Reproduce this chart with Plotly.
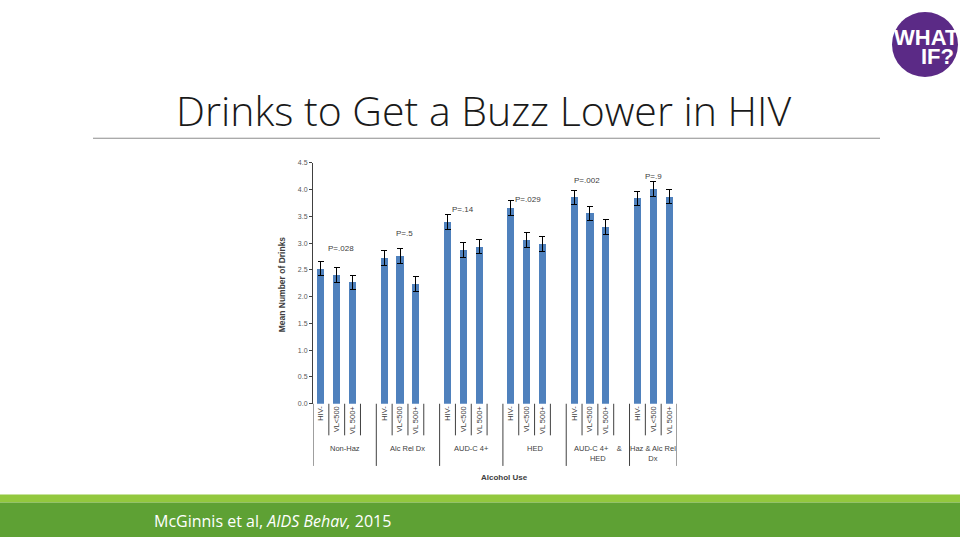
import plotly.graph_objects as go

# ---- data ----
groups = ["Non-Haz", "Alc Rel Dx", "AUD-C 4+", "HED", "AUD-C 4+    &<br>HED", "Haz & Alc Rel<br>Dx"]
subgroups = ["HIV-", "VL<500", "VL 500+"]
means = [
    [2.52, 2.40, 2.27],
    [2.73, 2.76, 2.24],
    [3.39, 2.87, 2.93],
    [3.66, 3.06, 2.98],
    [3.86, 3.56, 3.30],
    [3.84, 4.01, 3.87],
]
errors = [
    [0.13, 0.14, 0.13],
    [0.14, 0.14, 0.14],
    [0.14, 0.14, 0.13],
    [0.14, 0.14, 0.14],
    [0.13, 0.13, 0.14],
    [0.13, 0.14, 0.13],
]
p_values = ["P=.028", "P=.5", "P=.14", "P=.029", "P=.002", "P=.9"]
p_heights = [2.90, 3.18, 3.63, 3.82, 4.17, 4.24]
p_offsets = [0.3, 0.3, 0.0, 0.1, -0.2, 0.0]
y_ticks = [0.0, 0.5, 1.0, 1.5, 2.0, 2.5, 3.0, 3.5, 4.0, 4.5]

SLOTS = 4  # three bars plus one empty slot per group
xs, ys, es, labels = [], [], [], []
for g in range(len(groups)):
    for b in range(len(subgroups)):
        xs.append(g * SLOTS + b)
        ys.append(means[g][b])
        es.append(errors[g][b])
        labels.append(subgroups[b])

x_min = -0.5
x_max = (len(groups) - 1) * SLOTS + len(subgroups) - 0.5

W, H = 960, 540
def py(px):
    return 1 - px / H
def px_(p):
    return p / W

text_col = "#404040"
chart_font = "Liberation Sans"

fig = go.Figure()
fig.add_trace(go.Bar(
    x=xs, y=ys, width=0.45,
    marker=dict(color="#4f81bd", line=dict(width=0)),
    error_y=dict(type="data", array=es, visible=True, color="#000000", thickness=1, width=3),
    showlegend=False, hoverinfo="skip",
))

# P-value annotations
for g, (p, h, o) in enumerate(zip(p_values, p_heights, p_offsets)):
    fig.add_annotation(x=g * SLOTS + 1 + o, y=h, xref="x", yref="y", text=p, showarrow=False,
                       xanchor="center", yanchor="middle",
                       font=dict(family=chart_font, size=8, color=text_col))

# Separators below the axis
shapes = []
axis_bottom = 405
for g in range(len(groups)):
    nb = len(subgroups)
    for b in range(nb):
        pos = g * SLOTS + b + 0.5
        if g == len(groups) - 1 and b == nb - 1:
            continue
        shapes.append(dict(type="line", xref="x", yref="paper", x0=pos, x1=pos,
                           y0=py(axis_bottom), y1=py(437), line=dict(color="#404040", width=1)))
    left = g * SLOTS - 0.5
    shapes.append(dict(type="line", xref="x", yref="paper", x0=left, x1=left,
                       y0=py(axis_bottom), y1=py(468), line=dict(color="#404040", width=1)))
shapes.append(dict(type="line", xref="x", yref="paper", x0=x_max, x1=x_max,
                   y0=py(axis_bottom), y1=py(468), line=dict(color="#404040", width=1)))

# Group labels
for g, name in enumerate(groups):
    last = (g == len(groups) - 1)
    cx = g * SLOTS + (1 if last else 1.5)
    fig.add_annotation(x=cx, y=py(444), xref="x", yref="paper", text=name, showarrow=False,
                       xanchor="center", yanchor="top",
                       font=dict(family=chart_font, size=7.5, color=text_col))

# Slide decoration: title rule, green footer bands, logo
shapes.append(dict(type="line", xref="paper", yref="paper", x0=px_(93), x1=px_(880),
                   y0=py(136), y1=py(136), line=dict(color="#8c8c8c", width=1)))
shapes.append(dict(type="rect", xref="paper", yref="paper", x0=0, x1=1, y0=py(505), y1=py(497),
                   fillcolor="#92c83e", line=dict(width=0), layer="below"))
shapes.append(dict(type="rect", xref="paper", yref="paper", x0=0, x1=1, y0=0, y1=py(505),
                   fillcolor="#5ea134", line=dict(width=0), layer="below"))
shapes.append(dict(type="circle", xref="paper", yref="paper", x0=px_(892), x1=px_(958),
                   y0=py(74), y1=py(8), fillcolor="#5b2a86", line=dict(width=0)))

fig.add_annotation(x=px_(483), y=py(107), xref="paper", yref="paper", text="Drinks to Get a Buzz Lower in HIV",
                   showarrow=False, xanchor="center", yanchor="middle",
                   font=dict(family="Open Sans", size=41, color="#1a1a1a", weight=300))
fig.add_annotation(x=px_(152), y=py(524), xref="paper", yref="paper", xanchor="left", yanchor="middle",
                   text="McGinnis et al, <i>AIDS Behav,</i> 2015", showarrow=False,
                   font=dict(family="Open Sans", size=16, color="#ffffff"))
fig.add_annotation(x=px_(926), y=py(34), xref="paper", yref="paper", text="<b>WHAT</b>", showarrow=False,
                   xanchor="center", yanchor="middle",
                   font=dict(family="Liberation Sans Narrow, Liberation Sans", size=22, color="#ffffff"))
fig.add_annotation(x=px_(956), y=py(53), xref="paper", yref="paper", text="<b>IF?</b>", showarrow=False,
                   xanchor="right", yanchor="middle",
                   font=dict(family="Liberation Sans Narrow, Liberation Sans", size=22, color="#ffffff"))

# Axis titles
fig.add_annotation(x=px_(504), y=py(480), xref="paper", yref="paper", text="<b>Alcohol Use</b>",
                   showarrow=False, xanchor="center", yanchor="middle",
                   font=dict(family=chart_font, size=8, color=text_col))
fig.add_annotation(x=px_(282), y=py(284), xref="paper", yref="paper", text="<b>Mean Number of Drinks</b>",
                   textangle=-90, showarrow=False, xanchor="center", yanchor="middle",
                   font=dict(family=chart_font, size=8.5, color=text_col))

fig.update_layout(
    width=W, height=H,
    margin=dict(l=0, r=0, t=0, b=0),
    paper_bgcolor="#ffffff", plot_bgcolor="#ffffff",
    shapes=shapes,
    xaxis=dict(domain=[px_(313), px_(677)], range=[x_min, x_max], tickmode="array", tickvals=xs,
               ticktext=labels, tickangle=-90, showgrid=False, zeroline=False, showline=False,
               ticks="", tickfont=dict(family=chart_font, size=7.5, color=text_col)),
    yaxis=dict(domain=[py(axis_bottom), py(161)], range=[0, 4.5], tickmode="array", tickvals=y_ticks,
               ticktext=[f"{v:.1f}" for v in y_ticks], showgrid=False, zeroline=False,
               showline=True, linecolor="#404040", linewidth=1, ticks="outside", ticklen=3,
               tickcolor="#404040", tickfont=dict(family=chart_font, size=7, color="#595959")),
    bargap=0,
)

fig.write_html("out.html", config={"displayModeBar": False},
               post_script="document.body.style.margin='0';")
